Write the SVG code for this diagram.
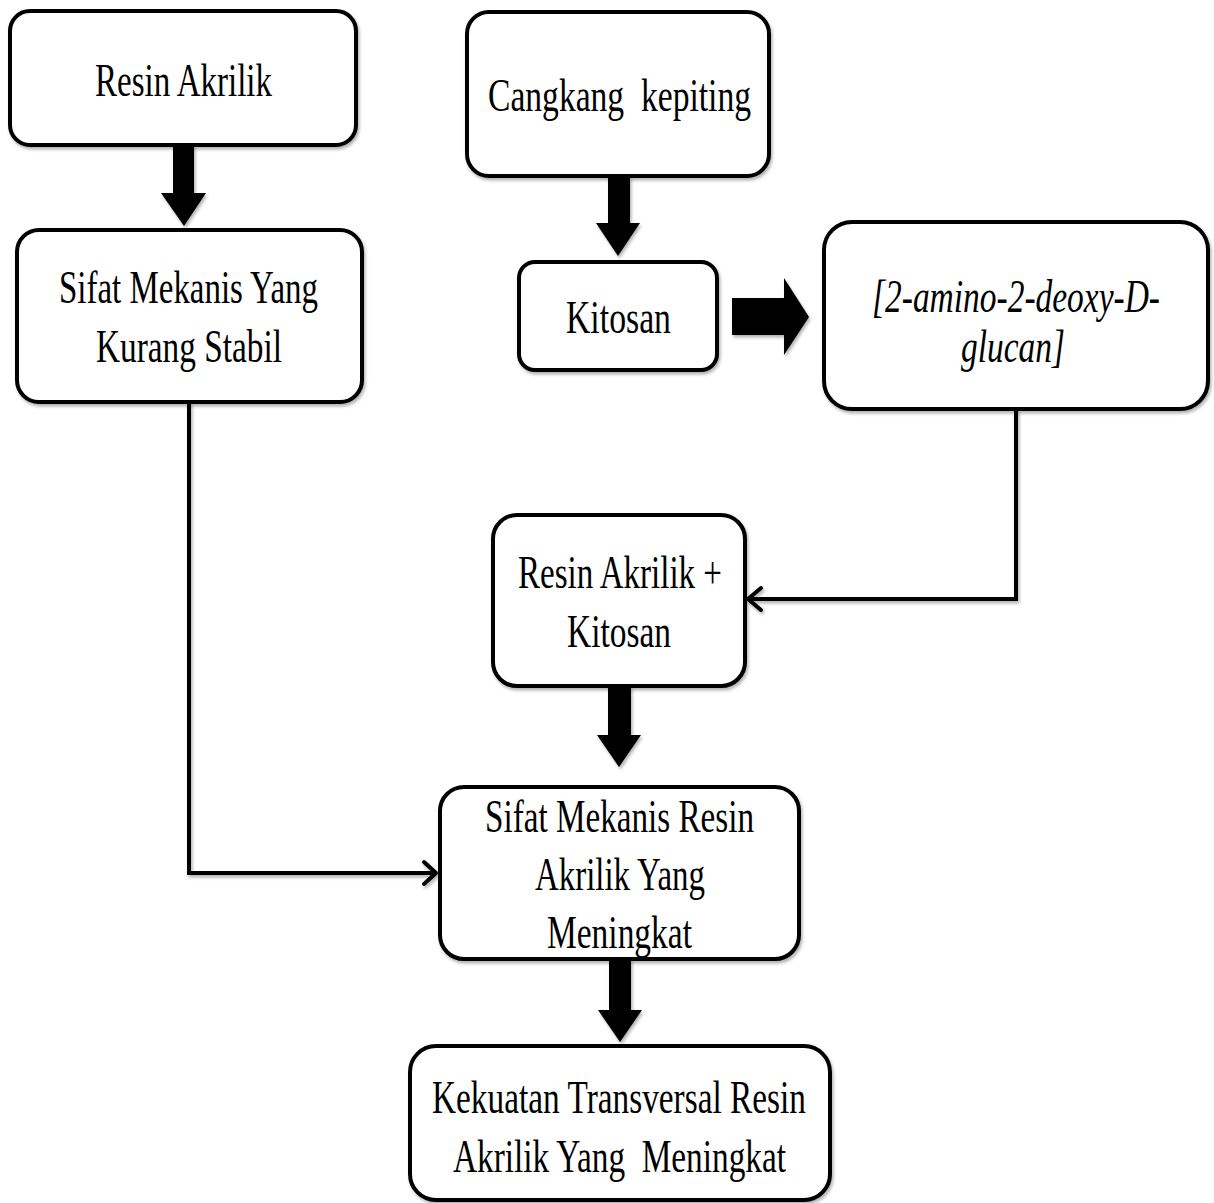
<svg xmlns="http://www.w3.org/2000/svg" width="1214" height="1203" viewBox="0 0 1214 1203">
<style>
.box{fill:#fff;stroke:#000;stroke-width:4}
.lbl{font-family:'Liberation Serif','DejaVu Serif',serif;font-size:47px;fill:#000;white-space:pre}
.it{font-style:italic}
.conn{fill:none;stroke:#000;stroke-width:4;stroke-linejoin:miter}
.chev{fill:none;stroke:#000;stroke-width:4;stroke-linecap:round;stroke-linejoin:round}
.big{fill:#000}
</style>
<defs>
<filter id="sh" x="-10%" y="-10%" width="120%" height="130%">
<feDropShadow dx="1.5" dy="2.5" stdDeviation="1.5" flood-color="#000" flood-opacity="0.3"/>
</filter>
</defs>
<rect width="1214" height="1203" fill="#fff"/>
<g id="connectors" filter="url(#sh)">
<polygon class="big" points="173,145 194,145 194,193 206,193 184,226 161,193 173,193"/>
<polygon class="big" points="608,176 630,176 630,223 640,223 618,256 596,223 608,223"/>
<polygon class="big" points="732,298 784,298 784,278 809,317 784,355 784,335 732,335"/>
<polygon class="big" points="608,686 631,686 631,735 641,735 619,767 597,735 608,735"/>
<polygon class="big" points="609,959 631,959 631,1010 642,1010 620,1042 598,1010 609,1010"/>
<polyline class="conn" points="189,402 189,873 434,873"/>
<polyline class="chev" points="424,862 436,873 424,884"/>
<polyline class="conn" points="1016,409 1016,599 750,599"/>
<polyline class="chev" points="761,588 748,599 761,610"/>
</g>
<g id="n1">
<rect class="box" filter="url(#sh)" x="10" y="11" width="346" height="134" rx="20"/>
<text class="lbl" x="95" y="96" textLength="177" lengthAdjust="spacingAndGlyphs">Resin Akrilik</text>
</g>
<g id="n2">
<rect class="box" filter="url(#sh)" x="17" y="230" width="345" height="172" rx="22"/>
<text class="lbl" x="59" y="303" textLength="259" lengthAdjust="spacingAndGlyphs">Sifat Mekanis Yang</text>
<text class="lbl" x="96" y="362" textLength="186" lengthAdjust="spacingAndGlyphs">Kurang Stabil</text>
</g>
<g id="n3">
<rect class="box" filter="url(#sh)" x="467" y="12" width="302" height="164" rx="22"/>
<text class="lbl" x="488" y="111" textLength="263" lengthAdjust="spacingAndGlyphs">Cangkang  kepiting</text>
</g>
<g id="n4">
<rect class="box" filter="url(#sh)" x="519" y="262" width="198" height="108" rx="16"/>
<text class="lbl" x="566" y="333" textLength="105" lengthAdjust="spacingAndGlyphs">Kitosan</text>
</g>
<g id="n5">
<rect class="box" filter="url(#sh)" x="824" y="222" width="384" height="187" rx="28"/>
<text class="lbl it" x="872" y="312" textLength="288" lengthAdjust="spacingAndGlyphs">[2-amino-2-deoxy-D-</text>
<text class="lbl it" x="961" y="362" textLength="104" lengthAdjust="spacingAndGlyphs">glucan]</text>
</g>
<g id="n6">
<rect class="box" filter="url(#sh)" x="493" y="515" width="252" height="171" rx="24"/>
<text class="lbl" x="518" y="588" textLength="204" lengthAdjust="spacingAndGlyphs">Resin Akrilik +</text>
<text class="lbl" x="567" y="647" textLength="104" lengthAdjust="spacingAndGlyphs">Kitosan</text>
</g>
<g id="n7">
<rect class="box" filter="url(#sh)" x="440" y="787" width="359" height="172" rx="24"/>
<text class="lbl" x="485" y="832" textLength="269" lengthAdjust="spacingAndGlyphs">Sifat Mekanis Resin</text>
<text class="lbl" x="535" y="890" textLength="170" lengthAdjust="spacingAndGlyphs">Akrilik Yang</text>
<text class="lbl" x="547" y="948" textLength="145" lengthAdjust="spacingAndGlyphs">Meningkat</text>
</g>
<g id="n8">
<rect class="box" filter="url(#sh)" x="410" y="1046" width="420" height="154" rx="26"/>
<text class="lbl" x="432" y="1113" textLength="374" lengthAdjust="spacingAndGlyphs">Kekuatan Transversal Resin</text>
<text class="lbl" x="453" y="1172" textLength="333" lengthAdjust="spacingAndGlyphs">Akrilik Yang  Meningkat</text>
</g>
</svg>
